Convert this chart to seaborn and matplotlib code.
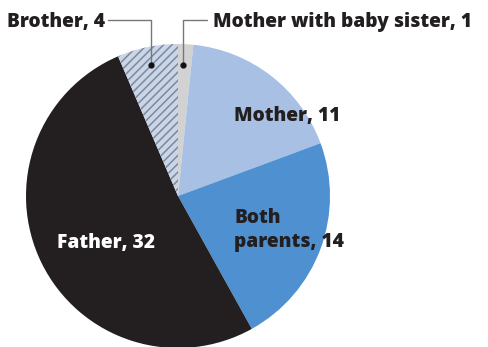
import matplotlib
matplotlib.use("Agg")
import matplotlib.pyplot as plt
import seaborn as sns

# data, clockwise from the top
labels = ["Mother with baby sister", "Mother", "Both parents", "Father", "Brother"]
counts = [1, 11, 14, 32, 4]
colors = ["#d2d2d2", "#a7c0e4", "#4f90d0", "#231f20", "#c9d5e8"]

sns.set_theme(style="white")
plt.rcParams["font.family"] = ["Open Sans", "DejaVu Sans"]
plt.rcParams["hatch.linewidth"] = 1.1

W, H = 488, 347
fig = plt.figure(figsize=(W / 100, H / 100), dpi=100)
ax = fig.add_axes([0, 0, 1, 1])

cx, cy, r = 178, H - 196, 152
wedges, _ = ax.pie(counts, colors=colors, startangle=90, counterclock=False,
                   center=(cx, cy), radius=r, frame=True,
                   wedgeprops=dict(linewidth=0))
ax.set_xlim(0, W)
ax.set_ylim(0, H)
ax.set_aspect("equal")
ax.axis("off")

# hatched brother slice
wedges[4].set_hatch("////")
wedges[4].set_edgecolor("#7f8898")

kw = dict(fontsize=13.8, fontweight=800, va="center")

# leader lines with dots
ax.plot([108, 151, 151], [H - 20, H - 20, H - 65], color="#777777", lw=1)
ax.plot([207, 183, 183], [H - 20, H - 20, H - 65], color="#777777", lw=1)
ax.plot([151, 183], [H - 65, H - 65], "o", color="#111111", ms=3.5)

ax.text(7, H - 22, f"{labels[4]}, {counts[4]}", ha="left", color="#231f20", **kw)
ax.text(213, H - 22, f"{labels[0]}, {counts[0]}", ha="left", color="#231f20", **kw)
ax.text(234, H - 116, f"{labels[1]}, {counts[1]}", ha="left", color="#231f20", **kw)
ax.text(234, H - 230, f"Both\nparents, {counts[2]}", ha="left", color="#231f20",
        linespacing=1.25, **kw)
ax.text(57, H - 243, f"{labels[3]}, {counts[3]}", ha="left", color="white", **kw)

fig.savefig("out.png", dpi=100)
